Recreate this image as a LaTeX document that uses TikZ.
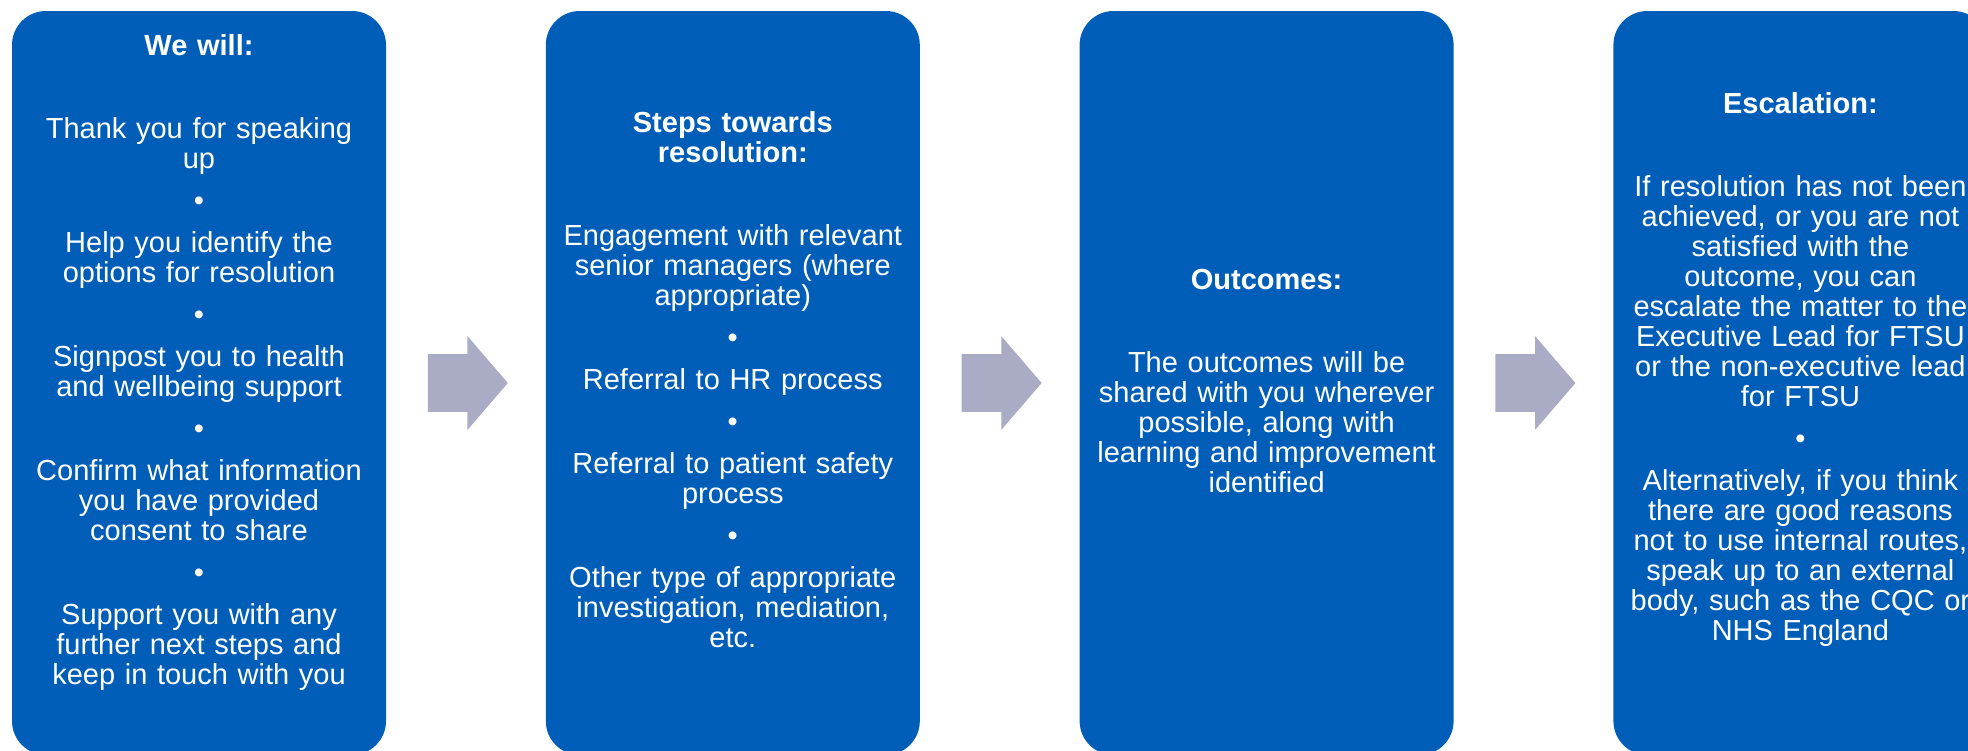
\documentclass[tikz,border=0pt]{standalone}
\usepackage{fontspec}
\setmainfont{Liberation Sans}
\usetikzlibrary{shapes.arrows, positioning}
\definecolor{nhsblue}{RGB}{0,94,184}
\definecolor{arrowgrey}{RGB}{170,171,197}
\tikzstyle{card} = [rectangle, rounded corners=17pt, fill=nhsblue, minimum width=187pt, minimum height=372pt, inner sep=0pt]
\tikzstyle{cardtext} = [text=white, text width=180pt, align=center, font=\fontsize{14.5}{15}\selectfont, inner sep=0pt, anchor=base]
\tikzstyle{flow} = [single arrow, fill=arrowgrey, minimum height=40pt, single arrow head extend=9pt, single arrow tip angle=98.6, inner xsep=0pt, inner ysep=14.25pt]

\begin{document}
\begin{tikzpicture}[x=0.5pt, y=-0.5pt, node distance=79.5pt]
\useasboundingbox (0,0) rectangle (1968,750);

% Nodes (Cards)
\node[card] (will) at (199,383) {};
\node[card, right=of will] (steps) {};
\node[card, right=of steps] (outcomes) {};
\node[card, right=of outcomes] (escalation) {};

% Arrows (Flow)
\node[flow, right=20.5pt of will] (arr1) {};
\node[flow, right=20.5pt of steps] (arr2) {};
\node[flow, right=20.5pt of outcomes] (arr3) {};

% Texts
\node[cardtext] (willtext) at (will |- 0,55.5) {\textbf{We will:}\\[26.5pt]
  Thank you for speaking\\up\\[6pt]•\\[6pt]
  Help you identify the\\options for resolution\\[6pt]•\\[6pt]
  Signpost you to health\\and wellbeing support\\[6pt]•\\[6pt]
  Confirm what information\\you have provided\\consent to share\\[6pt]•\\[6pt]
  Support you with any\\further next steps and\\keep in touch with you};
\node[cardtext] (stepstext) at (steps |- 0,132) {\textbf{Steps towards}\\\textbf{resolution:}\\[26.5pt]
  Engagement with relevant\\senior managers (where\\appropriate)\\[6pt]•\\[6pt]
  Referral to HR process\\[6pt]•\\[6pt]
  Referral to patient safety\\process\\[6pt]•\\[6pt]
  Other type of appropriate\\investigation, mediation,\\etc.};
\node[cardtext] (outcomestext) at (outcomes |- 0,289.5) {\textbf{Outcomes:}\\[26.5pt]
  The outcomes will be\\shared with you wherever\\possible, along with\\learning and improvement\\identified};
\node[cardtext] (escalationtext) at (escalation |- 0,113.5) {\textbf{Escalation:}\\[26.5pt]
  If resolution has not been\\achieved, or you are not\\satisfied with the\\outcome, you can\\escalate the matter to the\\Executive Lead for FTSU\\or the non-executive lead\\for FTSU\\[6pt]•\\[6pt]
  Alternatively, if you think\\there are good reasons\\not to use internal routes,\\speak up to an external\\body, such as the CQC or\\NHS England};

\end{tikzpicture}
\end{document}
